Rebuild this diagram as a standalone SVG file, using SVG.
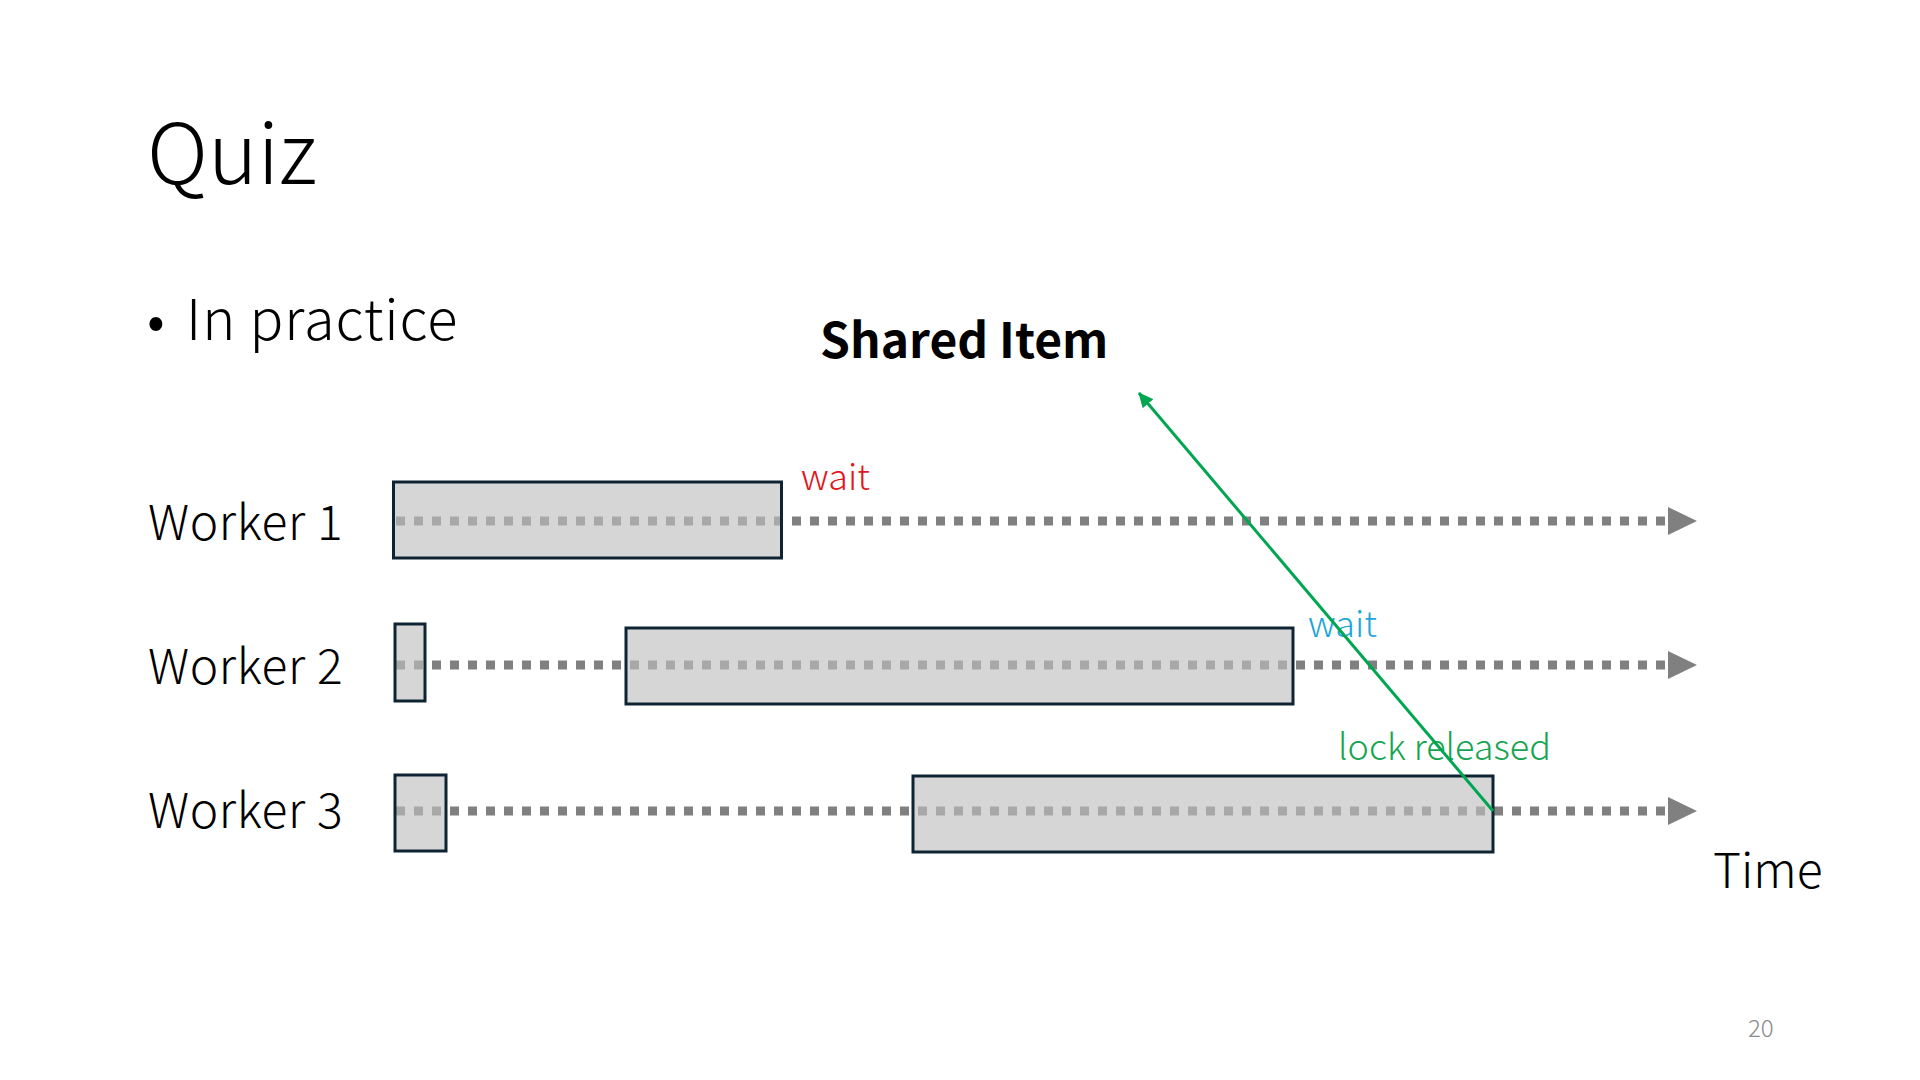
<svg xmlns="http://www.w3.org/2000/svg" width="1920" height="1080" viewBox="0 0 1920 1080">
<style>
text{font-family:"Noto Sans CJK JP","Noto Sans",sans-serif;}
.lt{font-weight:300;fill:#000;}
.lab{font-size:48px;font-weight:300;fill:#000;letter-spacing:0.6px;}
.small{font-size:36px;font-weight:300;}
.track{stroke:#808080;stroke-width:9;stroke-dasharray:9 9;fill:none;}
.box{fill:#bfbfbf;fill-opacity:0.64;stroke:#0f2433;stroke-width:3;}
</style>
<defs>
<marker id="tri" markerUnits="userSpaceOnUse" markerWidth="30" markerHeight="28" refX="0" refY="14" orient="auto" viewBox="0 0 30 28">
<path d="M0,0 L29,14 L0,28 Z" fill="#808080"/>
</marker>
<marker id="garrow" markerUnits="userSpaceOnUse" markerWidth="16" markerHeight="14" refX="14" refY="7" orient="auto" viewBox="0 0 16 14">
<path d="M0,0 L15,7 L0,14 Z" fill="#00a650"/>
</marker>
</defs>
<rect width="1920" height="1080" fill="#fff"/>
<text x="147" y="184" class="lt" font-size="84">Quiz</text>
<text x="147" y="340" class="lt" font-size="56" letter-spacing="0.9"><tspan>•</tspan><tspan x="186">In practice</tspan></text>
<text x="820" y="358" font-size="48" font-weight="700" fill="#000">Shared Item</text>
<g id="labels">
<text x="148" y="540" class="lab">Worker 1</text>
<text x="148" y="684" class="lab">Worker 2</text>
<text x="148" y="828" class="lab">Worker 3</text>
<text x="1713" y="888" class="lt" font-size="48">Time</text>
</g>
<g id="connectors">
<line class="track" x1="396" y1="521" x2="1668" y2="521" marker-end="url(#tri)"/>
<line class="track" x1="396" y1="665" x2="1668" y2="665" marker-end="url(#tri)"/>
<line class="track" x1="396" y1="811" x2="1668" y2="811" marker-end="url(#tri)"/>
</g>
<g id="worker1-task"><rect class="box" x="393.5" y="482" width="388" height="76"/></g>
<g id="worker2-task1"><rect class="box" x="395" y="624" width="30" height="77"/></g>
<g id="worker2-task2"><rect class="box" x="626" y="628" width="667" height="76"/></g>
<g id="worker3-task1"><rect class="box" x="395" y="775" width="51" height="76"/></g>
<g id="worker3-task2"><rect class="box" x="913" y="776" width="580" height="76"/></g>
<text x="801" y="490" class="small" fill="#e0161c">wait</text>
<text x="1308" y="637" class="small" fill="#1ea6dc">wait</text>
<text x="1338" y="760" class="small" fill="#16a450">lock released</text>
<g id="lock-arrow">
<line x1="1493" y1="811" x2="1139" y2="393" stroke="#00a650" stroke-width="3" marker-end="url(#garrow)"/>
</g>
<text x="1748" y="1037" font-size="24" font-weight="300" fill="#8a8a8a">20</text>
</svg>
